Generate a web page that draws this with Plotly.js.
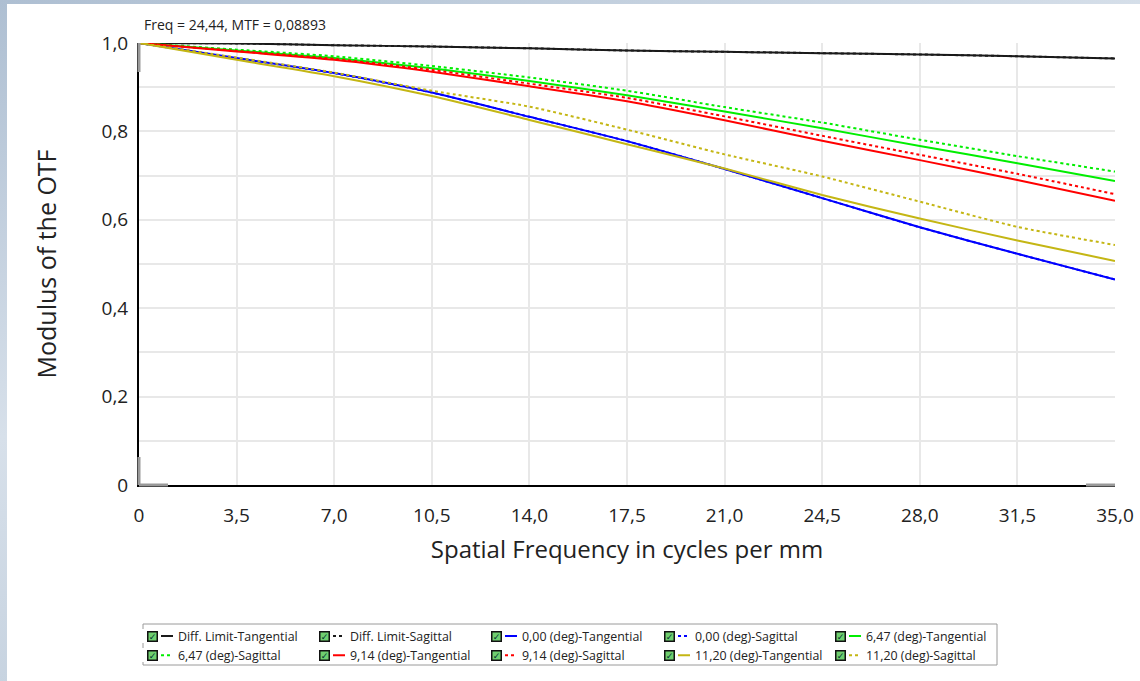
<!DOCTYPE html>
<html>
<head>
<meta charset="utf-8">
<script src="https://cdn.plot.ly/plotly-3.0.1.min.js"></script>
<style>
  html, body { margin: 0; padding: 0; width: 1140px; height: 681px; overflow: hidden;
    background: linear-gradient(160deg, #aebfd2 0%, #d7e0ea 40%, #c2cfdd 70%, #e1e7ee 100%); }
  #chart { position: absolute; left: 7px; top: 4px; width: 1133px; height: 677px; background: #fff; }
</style>
</head>
<body>
<div id="chart"></div>
<script>
// ---- data ----
const freq = [0, 3.5, 7, 10.5, 14, 17.5, 21, 24.5, 28, 31.5, 35];
const xTickText = ["0", "3,5", "7,0", "10,5", "14,0", "17,5", "21,0", "24,5", "28,0", "31,5", "35,0"];
const yTickVals = [0, 0.2, 0.4, 0.6, 0.8, 1.0];
const yTickText = ["0", "0,2", "0,4", "0,6", "0,8", "1,0"];

const diffLimitT = [1.000, 0.999, 0.995, 0.992, 0.988, 0.983, 0.980, 0.977, 0.974, 0.970, 0.965];
const diffLimitS = [1.000, 0.999, 0.995, 0.992, 0.988, 0.983, 0.980, 0.977, 0.974, 0.970, 0.965];
const f000T = [1.000, 0.966, 0.932, 0.888, 0.833, 0.778, 0.715, 0.649, 0.583, 0.523, 0.465];
const f000S = [1.000, 0.966, 0.932, 0.888, 0.833, 0.778, 0.715, 0.649, 0.583, 0.523, 0.465];
const f647T = [1.000, 0.983, 0.966, 0.943, 0.914, 0.882, 0.845, 0.807, 0.767, 0.728, 0.688];
const f647S = [1.000, 0.985, 0.970, 0.948, 0.922, 0.892, 0.855, 0.820, 0.781, 0.744, 0.709];
const f914T = [1.000, 0.981, 0.962, 0.935, 0.902, 0.868, 0.825, 0.779, 0.735, 0.690, 0.643];
const f914S = [1.000, 0.982, 0.964, 0.939, 0.908, 0.876, 0.834, 0.790, 0.747, 0.704, 0.658];
const f1120T = [1.000, 0.962, 0.925, 0.880, 0.826, 0.771, 0.716, 0.656, 0.603, 0.553, 0.507];
const f1120S = [1.000, 0.967, 0.933, 0.892, 0.856, 0.804, 0.748, 0.698, 0.641, 0.584, 0.543];

const seriesNames = ["Diff. Limit-Tangential", "Diff. Limit-Sagittal", "0,00 (deg)-Tangential", "0,00 (deg)-Sagittal",
  "6,47 (deg)-Tangential", "6,47 (deg)-Sagittal", "9,14 (deg)-Tangential", "9,14 (deg)-Sagittal",
  "11,20 (deg)-Tangential", "11,20 (deg)-Sagittal"];
const seriesValues = [diffLimitT, diffLimitS, f000T, f000S, f647T, f647S, f914T, f914S, f1120T, f1120S];
const seriesColors = ["#1a1a1a", "#1a1a1a", "#0000ff", "#0000ff", "#00ee00", "#00ee00", "#ff0000", "#ff0000", "#c4b614", "#c4b614"];
const seriesDash = ["solid", "dot", "solid", "dot", "solid", "dot", "solid", "dot", "solid", "dot"];
const cursorText = "Freq = 24,44, MTF = 0,08893";

// ---- layout geometry (page pixels -> paper fractions) ----
const divL = 7, divT = 4, mL = 132, mT = 39, plotW = 976, plotH = 442;
const px2paperX = p => (p - divL - mL) / plotW;
const py2paperY = p => (divT + mT + plotH - p) / plotH;

const FONT = "Open Sans, Noto Sans, sans-serif";
const legendKeys = ["legend", "legend2", "legend3", "legend4", "legend5"];
const colLeft = [148, 320, 492, 665, 836];   // checkbox left edges (page px)
const rowCenter = [636, 655];

const traces = seriesNames.map((name, i) => ({
  type: "scatter", mode: "lines", x: freq, y: seriesValues[i], name: name,
  line: { color: seriesColors[i], width: 2, dash: seriesDash[i], shape: "spline", smoothing: 0.6 },
  legend: legendKeys[i % 5], hoverinfo: "x+y+name"
}));

const layout = {
  width: 1133, height: 677,
  margin: { l: mL, r: 1133 - mL - plotW, t: mT, b: 677 - mT - plotH, pad: 0, autoexpand: false },
  paper_bgcolor: "#ffffff", plot_bgcolor: "#ffffff",
  font: { family: FONT, color: "#222" },
  showlegend: true,
  xaxis: {
    range: [0, 35], tickmode: "array", tickvals: freq, ticktext: xTickText,
    showgrid: true, gridcolor: "#e8e8e8", gridwidth: 2, zeroline: false,
    showline: true, linecolor: "#000", linewidth: 2, ticks: "", ticklabelstandoff: 12,
    tickfont: { size: 19, family: FONT, color: "#222" },
    title: { text: "Spatial Frequency in cycles per mm", font: { size: 24, family: FONT, color: "#222" }, standoff: 14 }
  },
  yaxis: {
    range: [0, 1.0], tickmode: "array", tickvals: yTickVals, ticktext: yTickText,
    showgrid: true, gridcolor: "#e8e8e8", gridwidth: 2, zeroline: false,
    minor: { tickmode: "linear", tick0: 0, dtick: 0.1, showgrid: true, gridcolor: "#e8e8e8", gridwidth: 2, ticks: "" },
    showline: true, linecolor: "#000", linewidth: 2, ticks: "", ticklabelstandoff: 5,
    tickfont: { size: 19, family: FONT, color: "#222" },
    title: { text: "Modulus of the OTF", font: { size: 25, family: FONT, color: "#222" }, standoff: 38 }
  },
  annotations: [
    { xref: "paper", yref: "paper", x: px2paperX(142), y: py2paperY(25), xanchor: "left", yanchor: "middle",
      text: cursorText, showarrow: false, font: { size: 14, family: FONT, color: "#222" } }
  ],
  shapes: [
    // legend frame
    { type: "rect", xref: "paper", yref: "paper", x0: px2paperX(143), x1: px2paperX(997), y0: py2paperY(624), y1: py2paperY(665),
      line: { color: "#9a9a9a", width: 1 }, fillcolor: "rgba(0,0,0,0)", layer: "below" },
    // grey end segments on the axes
    { type: "line", xref: "paper", yref: "paper", x0: 0, x1: 0, y0: 1, y1: 1 - 29 / plotH, line: { color: "#999", width: 3 }, layer: "above" },
    { type: "line", xref: "paper", yref: "paper", x0: 0, x1: 0, y0: 0, y1: 28 / plotH, line: { color: "#999", width: 3 }, layer: "above" },
    { type: "line", xref: "paper", yref: "paper", x0: 0, x1: 29 / plotW, y0: 0, y1: 0, line: { color: "#999", width: 3 }, layer: "above" },
    { type: "line", xref: "paper", yref: "paper", x0: 1 - 29 / plotW, x1: 1, y0: 0, y1: 0, line: { color: "#999", width: 3 }, layer: "above" }
  ]
};

legendKeys.forEach((k, c) => {
  layout[k] = {
    x: px2paperX(colLeft[c] - 10), y: py2paperY(rowCenter[0] - 14.5), xanchor: "left", yanchor: "top",
    orientation: "v", bgcolor: "rgba(0,0,0,0)", borderwidth: 0, traceorder: "normal",
    itemwidth: 30, font: { size: 12.4, family: FONT, color: "#222" }, tracegroupgap: 0
  };
  rowCenter.forEach(ry => {
    // white cover over the start of the legend line sample
    layout.annotations.push({ xref: "paper", yref: "paper", x: px2paperX(colLeft[c] + 3), y: py2paperY(ry),
      xanchor: "center", yanchor: "middle", text: " ", showarrow: false, width: 17, height: 12,
      bgcolor: "#ffffff", borderwidth: 0, font: { size: 8 } });
    // check box
    layout.annotations.push({ xref: "paper", yref: "paper", x: px2paperX(colLeft[c] + 4.5), y: py2paperY(ry),
      xanchor: "center", yanchor: "middle", text: "✓", showarrow: false, width: 8, height: 8,
      bgcolor: "#6fcf6f", bordercolor: "#111", borderwidth: 1.5, borderpad: 0,
      font: { size: 9, color: "#033", family: "DejaVu Sans" } });
  });
});

Plotly.newPlot("chart", traces, layout, { displayModeBar: false, staticPlot: true });
</script>
</body>
</html>
